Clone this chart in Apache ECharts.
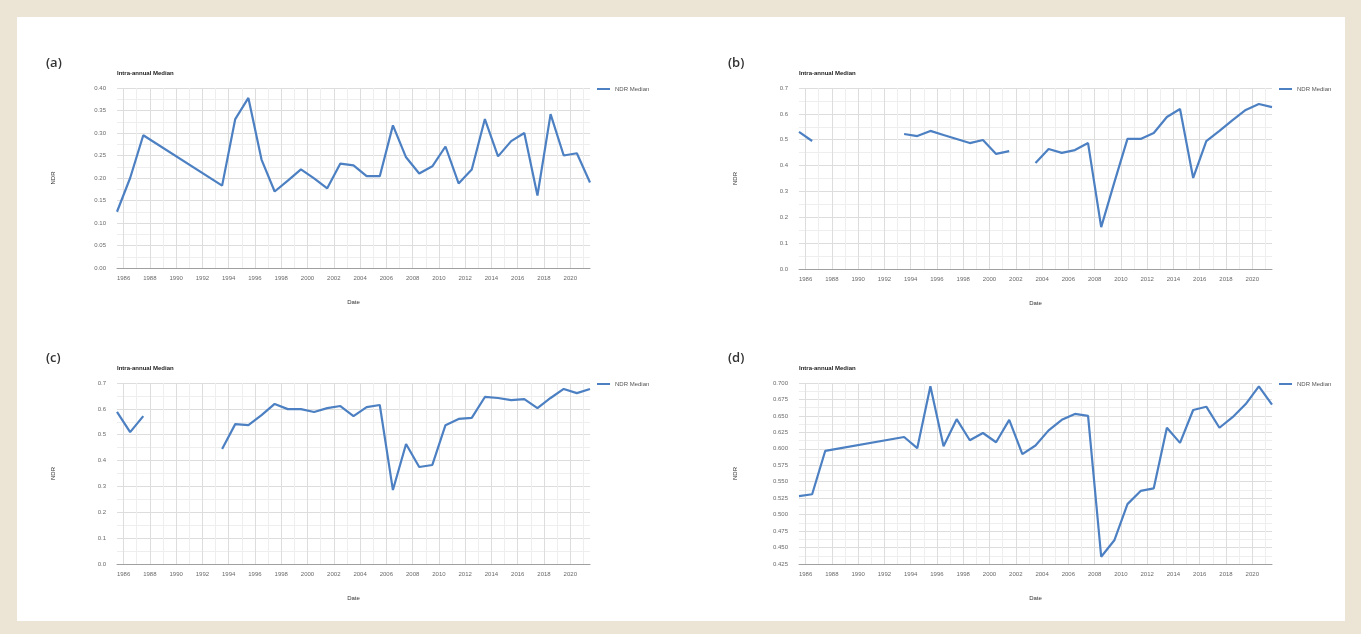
<!DOCTYPE html>
<html>
<head>
<meta charset="utf-8">
<script src="https://cdn.jsdelivr.net/npm/echarts@6/dist/echarts.min.js"></script>
<style>
  html, body { margin: 0; padding: 0; background: #ece4d4; }
  #sheet { position: absolute; left: 17px; top: 17px; width: 1328px; height: 604px; background: #ffffff; }
  #chart { position: absolute; left: 0; top: 0; width: 1361px; height: 634px; }
</style>
</head>
<body>
<div id="sheet"></div>
<div id="chart"></div>
<script>
// Observation years (one intra-annual median per year, dated mid-year)
const YEARS = [1985, 1986, 1987, 1988, 1989, 1990, 1991, 1992, 1993, 1994,
               1995, 1996, 1997, 1998, 1999, 2000, 2001, 2002, 2003, 2004,
               2005, 2006, 2007, 2008, 2009, 2010, 2011, 2012, 2013, 2014,
               2015, 2016, 2017, 2018, 2019, 2020, 2021];

// NDR median per year for each site (null = no data that year)
const NDR_A = [0.125, 0.200, 0.295, null, null, null, null, null, 0.183, 0.331,
               0.378, 0.241, 0.170, 0.194, 0.219, 0.199, 0.177, 0.232, 0.228, 0.204,
               0.204, 0.317, 0.246, 0.210, 0.226, 0.270, 0.188, 0.219, 0.331, 0.248,
               0.282, 0.300, 0.161, 0.342, 0.250, 0.255, 0.190];
const NDR_B = [0.530, 0.495, null, null, null, null, null, null, 0.522, 0.514,
               0.534, 0.518, 0.503, 0.487, 0.499, 0.445, 0.456, null, 0.410, 0.464,
               0.449, 0.460, 0.487, 0.162, 0.335, 0.503, 0.503, 0.526, 0.588, 0.619,
               0.352, 0.495, 0.534, 0.576, 0.615, 0.638, 0.626];
const NDR_C = [0.588, 0.510, 0.572, null, null, null, null, null, 0.445, 0.541,
               0.537, 0.576, 0.619, 0.599, 0.599, 0.588, 0.603, 0.611, 0.572, 0.607,
               0.615, 0.286, 0.464, 0.375, 0.383, 0.537, 0.561, 0.565, 0.646, 0.642,
               0.634, 0.638, 0.603, 0.642, 0.677, 0.661, 0.677];
const NDR_D = [0.528, 0.531, 0.597, null, null, null, null, null, 0.618, 0.601,
               0.695, 0.604, 0.645, 0.613, 0.624, 0.610, 0.644, 0.592, 0.605, 0.628,
               0.644, 0.653, 0.650, 0.436, 0.461, 0.516, 0.536, 0.540, 0.632, 0.609,
               0.659, 0.664, 0.632, 0.648, 0.668, 0.695, 0.667];

// Date axis: gridline every year, label every second year
const TICK_YEARS = [1986, 1987, 1988, 1989, 1990, 1991, 1992, 1993, 1994, 1995,
                    1996, 1997, 1998, 1999, 2000, 2001, 2002, 2003, 2004, 2005,
                    2006, 2007, 2008, 2009, 2010, 2011, 2012, 2013, 2014, 2015,
                    2016, 2017, 2018, 2019, 2020, 2021];
const LABEL_YEARS = [1986, 1988, 1990, 1992, 1994, 1996, 1998, 2000, 2002,
                     2004, 2006, 2008, 2010, 2012, 2014, 2016, 2018, 2020];

const PANEL_LETTERS = ['(a)', '(b)', '(c)', '(d)'];
const CHART_TITLE = 'Intra-annual Median';
const SERIES_NAME = 'NDR Median';
const X_TITLE = 'Date';
const Y_TITLE = 'NDR';

const panels = [
  { letter: PANEL_LETTERS[0], data: NDR_A, connect: true,  min: 0,     max: 0.4,  step: 0.05,  dec: 2,
    left: 117, top: 88,  width: 473, height: 180 },
  { letter: PANEL_LETTERS[1], data: NDR_B, connect: false, min: 0,     max: 0.7,  step: 0.1,   dec: 1,
    left: 799, top: 88,  width: 473, height: 181 },
  { letter: PANEL_LETTERS[2], data: NDR_C, connect: false, min: 0,     max: 0.7,  step: 0.1,   dec: 1,
    left: 117, top: 383, width: 473, height: 181 },
  { letter: PANEL_LETTERS[3], data: NDR_D, connect: true,  min: 0.425, max: 0.7,  step: 0.025, dec: 3,
    left: 799, top: 383, width: 473, height: 181 }
];

const LINE_COLOR = '#4c80c2';
const GRID_MAJOR = '#dddddd';
const GRID_MINOR = '#eeeeee';
const LABEL_COLOR = '#6a6a6a';
const FONT = 'Liberation Sans, Arial, sans-serif';

const grid = [], xAxis = [], yAxis = [], series = [], legend = [], graphic = [];

panels.forEach((p, i) => {
  grid.push({ left: p.left, top: p.top, width: p.width, height: p.height, containLabel: false });

  xAxis.push({
    type: 'value', gridIndex: i, min: 1985.5, max: 2021.5,
    axisLine: { show: true, lineStyle: { color: '#a0a0a0', width: 1 } },
    axisTick: { show: false, customValues: TICK_YEARS },
    axisLabel: { customValues: LABEL_YEARS, fontSize: 6, color: LABEL_COLOR, margin: 7,
                 fontFamily: FONT, formatter: v => String(Math.round(v)) },
    splitLine: { show: true, lineStyle: { color: [GRID_MAJOR, GRID_MINOR], width: 1 } },
    name: X_TITLE, nameLocation: 'middle', nameGap: 31,
    nameTextStyle: { fontSize: 6, color: '#333', fontFamily: FONT }
  });

  yAxis.push({
    type: 'value', gridIndex: i, min: p.min, max: p.max, interval: p.step,
    axisLine: { show: false }, axisTick: { show: false },
    axisLabel: { fontSize: 6, color: LABEL_COLOR, margin: 11, fontFamily: FONT,
                 formatter: v => v.toFixed(p.dec) },
    splitLine: { show: true, lineStyle: { color: GRID_MAJOR, width: 1 } },
    minorTick: { show: false, splitNumber: 2 },
    minorSplitLine: { show: true, lineStyle: { color: GRID_MINOR, width: 1 } },
    name: Y_TITLE, nameLocation: 'middle', nameGap: 61, nameRotate: 90,
    nameTextStyle: { fontSize: 6, color: '#333', fontFamily: FONT }
  });

  series.push({
    name: SERIES_NAME, type: 'line', xAxisIndex: i, yAxisIndex: i,
    data: YEARS.map((y, k) => [y + 0.5, p.data[k]]),
    showSymbol: false, symbol: 'none', connectNulls: p.connect,
    lineStyle: { color: LINE_COLOR, width: 2.2 },
    itemStyle: { color: LINE_COLOR },
    animation: false
  });

  legend.push({
    data: [SERIES_NAME], left: p.left + p.width + 7, top: p.top - 2, padding: 0,
    icon: 'rect', itemWidth: 13, itemHeight: 2,
    textStyle: { fontSize: 6, color: '#555', fontFamily: FONT }
  });

  graphic.push({
    type: 'text', x: p.left - 71, y: p.top - 25,
    style: { text: p.letter, fontSize: 13, fontWeight: 600, fontFamily: 'Open Sans, sans-serif',
             fill: '#333', align: 'left', verticalAlign: 'middle' }
  });
  graphic.push({
    type: 'text', x: p.left, y: p.top - 15,
    style: { text: CHART_TITLE, fontSize: 6, fontWeight: 'bold', fontFamily: FONT,
             fill: '#222', align: 'left', verticalAlign: 'middle' }
  });
});

const chart = echarts.init(document.getElementById('chart'), null, { renderer: 'canvas' });
chart.setOption({
  animation: false,
  backgroundColor: 'transparent',
  grid, xAxis, yAxis, series, legend, graphic
});
</script>
</body>
</html>
